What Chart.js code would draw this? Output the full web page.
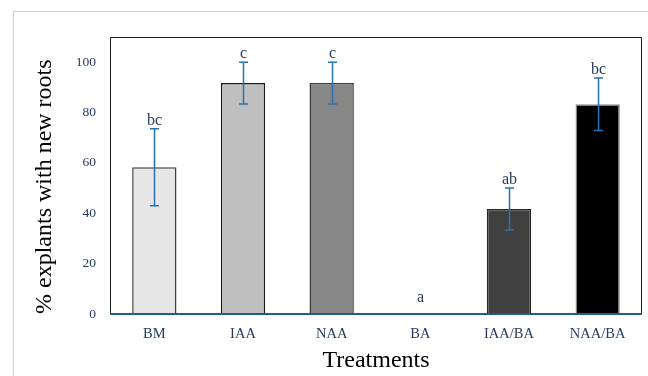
<!DOCTYPE html>
<html>
<head>
<meta charset="utf-8">
<script src="https://cdn.jsdelivr.net/npm/chart.js@4/dist/chart.umd.min.js"></script>
<style>
  html,body{margin:0;padding:0;background:#fff;}
  #wrap{position:relative;width:648px;height:376px;overflow:hidden;}
  #frame{position:absolute;left:13px;top:11px;width:700px;height:400px;border-left:1px solid #cfcfcf;border-top:1px solid #cfcfcf;}
  canvas{position:absolute;left:0;top:0;}
</style>
</head>
<body>
<div id="wrap">
  <div id="frame"></div>
  <canvas id="c" width="648" height="376"></canvas>
</div>
<script>
// data
const treatments = ['BM','IAA','NAA','BA','IAA/BA','NAA/BA'];
const rootPct    = [58.3, 91.7, 91.7, 0, 41.7, 83.3];
const rootErr    = [15.3, 8.3, 8.3, 0, 8.3, 10.4];
const letters    = ['bc','c','c','a','ab','bc'];
const yTicks     = [0,20,40,60,80,100];

const fills   = ['#e6e6e6','#bfbfbf','#878787','#ffffff','#404040','#000000'];
const strokes = ['#404040','#1a1a1a','#3a3a3a','#ffffff','#262626','#8a8a8a'];

const TXT = '#243b5e';
const SERIF = '"Liberation Serif", "DejaVu Serif", serif';

// error bars + significance letters + plot frame
const extras = {
  id:'extras',
  afterDatasetsDraw(chart){
    const ctx = chart.ctx, x = chart.scales.x, y = chart.scales.y, a = chart.chartArea;
    ctx.save();
    // frame
    ctx.strokeStyle = '#1a1a1a'; ctx.lineWidth = 1;
    ctx.beginPath();
    ctx.moveTo(a.left+0.5, a.bottom); ctx.lineTo(a.left+0.5, a.top+0.5);
    ctx.lineTo(a.right-0.5, a.top+0.5); ctx.lineTo(a.right-0.5, a.bottom);
    ctx.stroke();
    ctx.strokeStyle = '#245f7e'; ctx.lineWidth = 2;
    ctx.beginPath(); ctx.moveTo(a.left, a.bottom); ctx.lineTo(a.right, a.bottom); ctx.stroke();

    ctx.font = '16px ' + SERIF; ctx.textAlign = 'center'; ctx.textBaseline = 'alphabetic';
    rootPct.forEach((v,i)=>{
      const cx = Math.round(x.getPixelForValue(i)) + 0.5;
      let topY;
      if(rootErr[i] > 0){
        const hi = y.getPixelForValue(v + rootErr[i]), lo = y.getPixelForValue(v - rootErr[i]);
        ctx.strokeStyle = '#2971b0'; ctx.lineWidth = 1.5;
        ctx.beginPath();
        ctx.moveTo(cx, hi); ctx.lineTo(cx, lo);
        ctx.moveTo(cx-4.5, hi); ctx.lineTo(cx+4.5, hi);
        ctx.moveTo(cx-4.5, lo); ctx.lineTo(cx+4.5, lo);
        ctx.stroke();
        topY = hi;
      } else {
        topY = y.getPixelForValue(v) - 8;
      }
      ctx.fillStyle = TXT;
      ctx.fillText(letters[i], cx, topY - 4);
    });
    ctx.restore();
  }
};

new Chart(document.getElementById('c'), {
  type:'bar',
  data:{
    labels:treatments,
    datasets:[{
      data:rootPct,
      backgroundColor:fills,
      borderColor:strokes,
      borderWidth:1.5,
      barPercentage:0.5,
      categoryPercentage:1
    }]
  },
  options:{
    responsive:false,
    animation:false,
    layout:{padding:{left:0,right:6,top:37,bottom:0}},
    plugins:{legend:{display:false},tooltip:{enabled:false}},
    scales:{
      x:{
        grid:{display:false,drawTicks:false},
        border:{display:false},
        ticks:{color:TXT,font:{family:SERIF,size:14.5},padding:11,maxRotation:0},
        title:{display:true,text:'Treatments',color:'#000',font:{family:SERIF,size:24},padding:{top:2,bottom:1}},
        afterFit(s){ s.height = 62; }
      },
      y:{
        min:0, max:110,
        grid:{display:false,drawTicks:false},
        border:{display:false},
        afterBuildTicks(s){ s.ticks = yTicks.map(v=>({value:v})); },
        ticks:{color:TXT,font:{family:SERIF,size:13.5},padding:14},
        title:{display:true,text:'% explants with new roots',color:'#000',align:'start',font:{family:SERIF,size:24},padding:{top:30,bottom:0}},
        afterFit(s){ s.width = 110; }
      }
    }
  },
  plugins:[extras]
});
</script>
</body>
</html>
